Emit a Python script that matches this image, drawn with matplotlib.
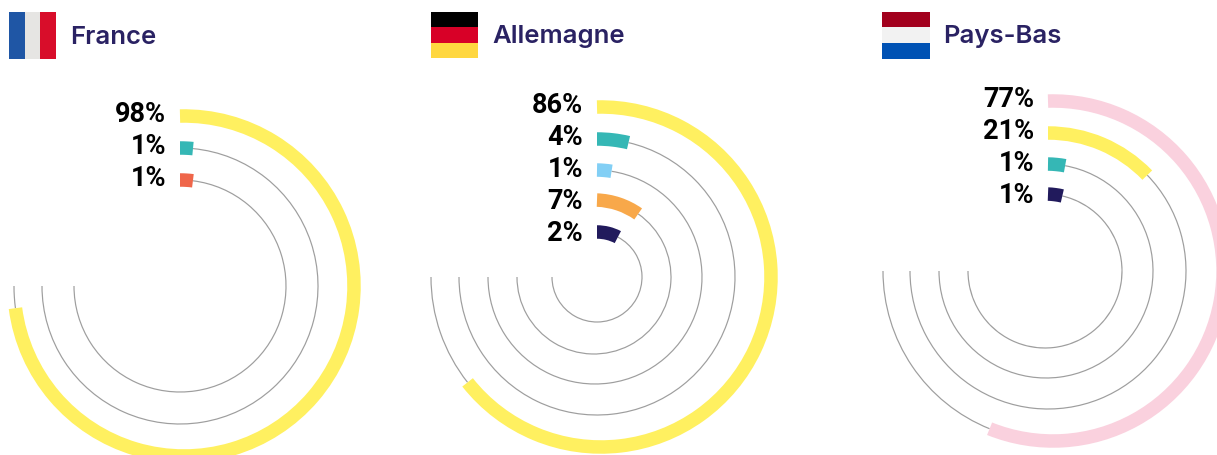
import numpy as np
import matplotlib
matplotlib.use('Agg')
import matplotlib.pyplot as plt
from matplotlib.patches import Wedge, Rectangle

# labels shown next to the arcs
france_labels = ['98%', '1%', '1%']
allemagne_labels = ['86%', '4%', '1%', '7%', '2%']
paysbas_labels = ['77%', '21%', '1%', '1%']

# how far each bar runs round its ring, degrees clockwise from the top
france_sweep = [262.5, 5.4, 7.0]
allemagne_sweep = [231.7, 13.2, 8.9, 35.0, 27.6]
paysbas_sweep = [201.9, 46.0, 10.3, 13.0]

YELLOW = '#FFF060'
TEAL = '#35B7B5'
CORAL = '#EF664A'
SKY = '#82CFF5'
ORANGE = '#F8A84A'
NAVY = '#211A5C'
PINK = '#FAD1DE'
TRACK = '#9E9E9E'
TITLE = '#2A2263'

panels = [
    dict(title='France', title_x=70, labels=france_labels, sweep=france_sweep,
         colors=[YELLOW, TEAL, CORAL], cx=[184, 180, 180], cy=287, r=[170, 138, 106],
         start_x=180, label_x=166, label_y=[115, 147, 179],
         flag_x=(9, 56), flag_y=(13, 60), flag_dir='v',
         flag_cuts=[25, 40], flag_colors=['#1F56A5', '#E6E5E3', '#D80D2A']),
    dict(title='Allemagne', title_x=492, labels=allemagne_labels, sweep=allemagne_sweep,
         colors=[YELLOW, TEAL, SKY, ORANGE, NAVY], cx=[601, 597, 595, 594, 597], cy=278,
         r=[170, 138, 107, 77, 45],
         start_x=597, label_x=583, label_y=[106, 138, 170, 202, 234],
         flag_x=(431, 478), flag_y=(13, 59), flag_dir='h',
         flag_cuts=[28, 44], flag_colors=['#000000', '#D80027', '#FFD740']),
    dict(title='Pays-Bas', title_x=943, labels=paysbas_labels, sweep=paysbas_sweep,
         colors=[PINK, YELLOW, TEAL, NAVY], cx=[1053, 1048, 1046, 1045], cy=272,
         r=[170, 138, 107, 77],
         start_x=1048, label_x=1034, label_y=[100, 132, 164, 196],
         flag_x=(882, 930), flag_y=(13, 60), flag_dir='h',
         flag_cuts=[28, 44], flag_colors=['#A2001D', '#F2F2F2', '#0052B4']),
]

plt.rcParams['font.family'] = ['Inter', 'DejaVu Sans']

fig = plt.figure(figsize=(12.17, 4.56), dpi=100)
ax = fig.add_axes([0, 0, 1, 1])
ax.set_xlim(0, 1217)
ax.set_ylim(456, 0)
ax.axis('off')

BAR_W = 13.5

for p in panels:
    # flag
    x0, x1 = p['flag_x']
    y0, y1 = p['flag_y']
    if p['flag_dir'] == 'v':
        edges = [x0] + p['flag_cuts'] + [x1]
        for i, c in enumerate(p['flag_colors']):
            ax.add_patch(Rectangle((edges[i], y0), edges[i + 1] - edges[i], y1 - y0, color=c, lw=0))
    else:
        edges = [y0] + p['flag_cuts'] + [y1]
        for i, c in enumerate(p['flag_colors']):
            ax.add_patch(Rectangle((x0, edges[i]), x1 - x0, edges[i + 1] - edges[i], color=c, lw=0))

    ax.text(p['title_x'], 37, p['title'], color=TITLE, fontsize=18.5, fontweight='semibold',
            ha='left', va='center')

    # rings, bars sit on top of the thin track
    for i, label in enumerate(p['labels']):
        cx = p['cx'][i]
        r = p['r'][i]
        a0 = np.degrees(np.arcsin((p['start_x'] - cx) / r))
        a1 = p['sweep'][i]
        ax.add_patch(Wedge((cx, p['cy']), r + 0.6, a1 - 90, 180, width=1.2, color=TRACK, lw=0))
        ax.add_patch(Wedge((cx, p['cy']), r + BAR_W / 2, a0 - 90, a1 - 90, width=BAR_W,
                           color=p['colors'][i], lw=0))
        ax.text(p['label_x'], p['label_y'][i], label, color='black', fontsize=19.5,
                fontweight='semibold', family=['Roboto', 'DejaVu Sans'], ha='right', va='center')

fig.savefig('out.png', dpi=100)
